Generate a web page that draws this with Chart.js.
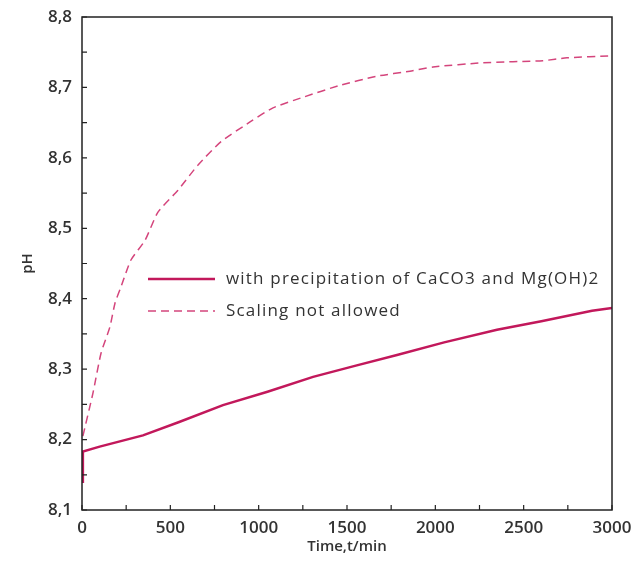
<!DOCTYPE html>
<html>
<head>
<meta charset="utf-8">
<script src="https://cdn.jsdelivr.net/npm/chart.js@4.4.1/dist/chart.umd.min.js"></script>
<style>
  html, body { margin: 0; padding: 0; background: #fff; }
  #wrap { width: 636px; height: 574px; position: relative; }
</style>
</head>
<body>
<div id="wrap"><canvas id="c"></canvas></div>
<script>
// pH vs time
const seriesNames = ["with precipitation of CaCO3 and Mg(OH)2", "Scaling not allowed"];

const precipTime = [0, 5, 100, 345, 550, 798, 1050, 1308, 1550, 1783, 2050, 2349, 2600, 2887, 3000];
const precipPH   = [8.14, 8.183, 8.19, 8.206, 8.225, 8.249, 8.268, 8.289, 8.305, 8.320, 8.338, 8.356, 8.368, 8.383, 8.387];

const noScaleTime = [5, 62, 108, 158, 187, 221, 277, 357, 430, 543, 657, 787, 951, 1081, 1251, 1460, 1670, 1856, 1987, 2270, 2609, 2745, 3000];
const noScalePH   = [8.205, 8.266, 8.323, 8.360, 8.394, 8.417, 8.455, 8.483, 8.523, 8.554, 8.590, 8.623, 8.651, 8.671, 8.686, 8.703, 8.716, 8.723, 8.729, 8.735, 8.738, 8.742, 8.745];

const xTicks = [0, 500, 1000, 1500, 2000, 2500, 3000];
const yTicks = [8.1, 8.2, 8.3, 8.4, 8.5, 8.6, 8.7, 8.8];

const toXY = (xs, ys) => xs.map((x, i) => ({ x, y: ys[i] }));
const FONT = "Open Sans, Lato, sans-serif";

// frame + inward ticks (major and half-step minor)
const framePlugin = {
  id: "frame",
  afterDraw(chart){
    const { ctx, chartArea: a, scales } = chart;
    ctx.save();
    ctx.strokeStyle = "#222";
    ctx.lineWidth = 1.5;
    ctx.strokeRect(a.left, a.top, a.right - a.left, a.bottom - a.top);
    ctx.lineWidth = 1.2;
    ctx.beginPath();
    for (let v = 0; v <= 3000; v += 250){
      const px = scales.x.getPixelForValue(v);
      ctx.moveTo(px, a.bottom); ctx.lineTo(px, a.bottom - 5);
    }
    for (let i = 0; i <= 14; i++){
      const py = scales.y.getPixelForValue(8.1 + i * 0.05);
      ctx.moveTo(a.left, py); ctx.lineTo(a.left + 5, py);
    }
    ctx.stroke();
    ctx.restore();
  }
};

// legend drawn inside the plot area
const innerLegend = {
  id: "innerLegend",
  afterDraw(chart){
    const { ctx } = chart;
    const rows = [279, 311];
    ctx.save();
    ctx.font = "17px " + FONT;
    ctx.textBaseline = "middle";
    chart.data.datasets.forEach((ds, i) => {
      const y = rows[i];
      ctx.strokeStyle = ds.borderColor;
      ctx.lineWidth = ds.borderWidth;
      ctx.setLineDash(ds.borderDash || []);
      ctx.beginPath();
      ctx.moveTo(148, y); ctx.lineTo(215, y);
      ctx.stroke();
      ctx.setLineDash([]);
      ctx.fillStyle = "#333";
      ctx.letterSpacing = "1.2px";
      ctx.fillText(ds.label, 226, y);
    });
    ctx.restore();
  }
};

const tickFont = { family: FONT, size: 17, weight: "600" };

new Chart(document.getElementById("c"), {
  type: "line",
  data: {
    datasets: [
      {
        label: seriesNames[0],
        data: toXY(precipTime, precipPH),
        borderColor: "#c2185b",
        borderWidth: 2.5,
        pointRadius: 0,
        tension: 0
      },
      {
        label: seriesNames[1],
        data: toXY(noScaleTime, noScalePH),
        borderColor: "#d4457c",
        borderWidth: 1.5,
        borderDash: [8, 5],
        pointRadius: 0,
        tension: 0.2
      }
    ]
  },
  options: {
    responsive: true,
    maintainAspectRatio: false,
    animation: false,
    layout: { padding: { top: 17, right: 24, left: 0, bottom: 0 } },
    plugins: { legend: { display: false }, tooltip: { enabled: false } },
    scales: {
      x: {
        type: "linear",
        min: 0, max: 3000,
        afterBuildTicks: s => { s.ticks = xTicks.map(v => ({ value: v })); },
        afterFit: s => { s.height = 64; s.paddingLeft = 0; s.paddingRight = 0; },
        grid: { display: false, drawTicks: false },
        border: { display: false },
        ticks: { padding: 8, color: "#333", font: tickFont, callback: v => String(v) },
        title: { display: true, text: "Time,t/min", color: "#333", padding: { top: 0, bottom: 18 }, font: { family: FONT, size: 15, weight: "600" } }
      },
      y: {
        type: "linear",
        min: 8.1, max: 8.8,
        afterBuildTicks: s => { s.ticks = yTicks.map(v => ({ value: v })); },
        afterFit: s => { s.width = 82; s.paddingTop = 0; s.paddingBottom = 0; },
        grid: { display: false, drawTicks: false },
        border: { display: false },
        ticks: {
          padding: 10, color: "#333",
          font: tickFont,
          callback: v => v.toFixed(1).replace(".", ",")
        },
        title: { display: true, text: "pH", color: "#333", padding: { top: 19, bottom: 0 }, font: { family: FONT, size: 15, weight: "600" } }
      }
    }
  },
  plugins: [framePlugin, innerLegend]
});
</script>
</body>
</html>
